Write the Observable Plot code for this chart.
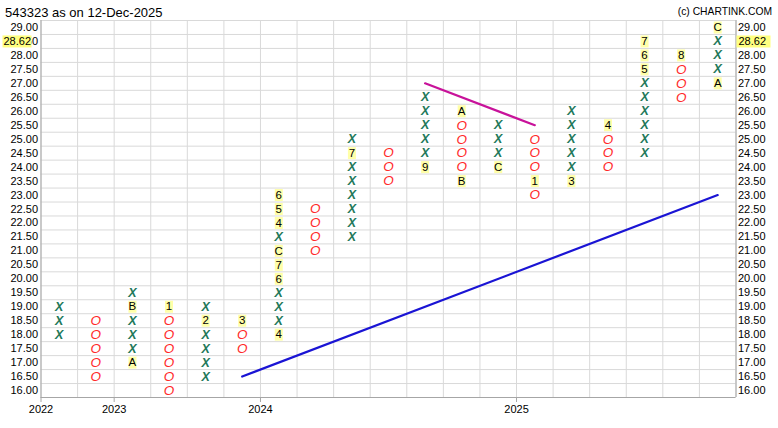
<!DOCTYPE html>
<html><head><meta charset="utf-8">
<script src="https://cdn.jsdelivr.net/npm/d3@7"></script>
<script src="https://cdn.jsdelivr.net/npm/@observablehq/plot@0.6"></script>
<style>
body{margin:0;background:#fff;overflow:hidden;}
#wrap{position:relative;width:778px;height:428px;font-family:"Liberation Sans",Arial,sans-serif;}
#wrap svg{position:absolute;left:0;top:0;}
#title{position:absolute;left:5px;top:5px;font-size:13px;line-height:16px;color:#000;z-index:2;}
#credit{position:absolute;right:6px;top:4px;font-size:10.3px;line-height:16px;color:#000;z-index:2;}
</style></head><body>
<div id="wrap"><div id="title">543323 as on 12-Dec-2025</div><div id="credit">(c) CHARTINK.COM</div></div>
<script>
// Point & figure columns
const colTypes = ["X","O","X","O","X","O","X","O","X","O","X","O","X","O","X","O","X","O","X"];
const colLows  = [18.0,16.5,17.0,16.0,16.5,17.5,18.0,21.0,21.5,23.5,24.0,23.5,24.0,23.0,23.5,24.0,24.5,26.5,27.0];
const colHighs = [19.0,18.5,19.5,19.0,19.0,18.5,23.0,22.5,25.0,24.5,26.5,26.0,25.5,25.0,26.0,25.5,28.5,28.0,29.0];
// Month markers (column, box price, label)
const monthCols   = [2,2,3,4,5,6,6,6,6,6,6,6,8,10,11,11,12,13,14,15,16,16,16,17,18,18];
const monthPrices = [17.0,19.0,19.0,18.5,18.5,18.0,20.0,20.5,21.0,22.0,22.5,23.0,24.5,24.0,26.0,23.5,24.0,23.5,23.5,25.5,27.5,28.0,28.5,28.0,27.0,29.0];
const monthLabels = ["A","B","1","2","3","4","6","7","C","4","5","6","7","9","A","B","C","1","3","4","5","6","7","8","A","C"];
// Trend lines
const resistCols = [10,13], resistPrices = [27.0,25.5];
const supportCols = [5,18], supportPrices = [16.5,23.0];
// Axis labels
const yearCols = [0,2,6,13];
const yearLabels = ["2022","2023","2024","2025"];
const boxSize = 0.5, priceMin = 16.0, priceMax = 29.0;
const lastPrice = 28.62;

const nCols = colTypes.length;
const months = monthLabels.map((t,i)=>({col:monthCols[i], price:monthPrices[i], label:t}));
const monthKey = new Set(months.map(m=>m.col+"|"+m.price.toFixed(2)));
const boxes = [];
colTypes.forEach((t,i)=>{
  for (let p = colLows[i]; p <= colHighs[i] + 1e-9; p += boxSize) {
    if (!monthKey.has(i+"|"+p.toFixed(2))) boxes.push({col:i, price:p, type:t});
  }
});
const priceTicks = d3.range(priceMin, priceMax + 1e-9, boxSize);
const hGrid = d3.range(priceMin - boxSize/2, priceMax + boxSize/2 + 1e-9, boxSize);
const vGrid = d3.range(0, nCols + 1);
const lastRow = Math.floor(lastPrice / boxSize) * boxSize;

const rectSymbol = (w,h) => ({draw(ctx){ ctx.rect(-w/2,-h/2,w,h); }});
const green = "#22785a", red = "#ff2a2a", gridC = "#d9d9d9", axisC = "#a6a6a6";

const chart = Plot.plot({
  width: 778, height: 428,
  marginTop: 20, marginBottom: 31, marginLeft: 40.5, marginRight: 42.5,
  x: {type: "linear", domain: [0, nCols]},
  y: {domain: [priceMin - boxSize/2, priceMax + boxSize/2]},
  style: {fontFamily: "Liberation Sans, Arial, sans-serif", fontSize: "11px", background: "#fff", overflow: "visible"},
  marks: [
    Plot.ruleY(hGrid, {stroke: gridC}),
    Plot.ruleX(vGrid, {stroke: gridC}),
    Plot.ruleX([0, nCols], {stroke: axisC}),
    Plot.ruleY([priceMin - boxSize/2], {stroke: axisC}),
    Plot.axisY({anchor: "left", ticks: priceTicks, tickFormat: d => d.toFixed(2), tickSize: 0, tickPadding: 3, label: null}),
    Plot.axisY({anchor: "right", ticks: priceTicks, tickFormat: d => d.toFixed(2), tickSize: 0, tickPadding: 2, label: null}),
    Plot.axisX({ticks: yearCols, tickFormat: d => yearLabels[yearCols.indexOf(d)], tickSize: 5, tickPadding: 3, stroke: axisC, label: null}),
    Plot.line(supportCols.map((c,i)=>({x:c+0.5, y:supportPrices[i]})), {x:"x", y:"y", stroke:"#1a14d4", strokeWidth:2.2}),
    Plot.line(resistCols.map((c,i)=>({x:c+0.5, y:resistPrices[i]})), {x:"x", y:"y", stroke:"#c8129a", strokeWidth:2.2}),
    Plot.text(boxes.filter(b=>b.type==="X"), {x: d=>d.col+0.5, y: "price", text: "type", fill: green, fontStyle: "italic", fontWeight: "bold", fontSize: 12.5}),
    Plot.text(boxes.filter(b=>b.type==="O"), {x: d=>d.col+0.5, y: "price", text: "type", fill: red, fontStyle: "italic", fontSize: 13.5}),
    Plot.dot(months, {x: d=>d.col+0.5, y: "price", symbol: rectSymbol(8,12), fill: "#ffffa8", stroke: "none"}),
    Plot.text(months, {x: d=>d.col+0.5, y: "price", text: "label", fill: "#000", fontSize: 11.5}),
    Plot.dot([lastPrice], {frameAnchor: "left", y: () => lastRow, dx: -24, symbol: rectSymbol(29,12), fill: "#ffff80", stroke: "none"}),
    Plot.text([lastPrice], {frameAnchor: "left", y: () => lastRow, dx: -37.5, text: d => d.toFixed(2), textAnchor: "start", fill: "#000"}),
    Plot.dot([lastPrice], {frameAnchor: "right", y: () => lastRow, dx: 17.5, symbol: rectSymbol(34,12), fill: "#ffff80", stroke: "none"}),
    Plot.text([lastPrice], {frameAnchor: "right", y: () => lastRow, dx: 2.5, text: d => d.toFixed(2), textAnchor: "start", fill: "#000"})
  ]
});
document.getElementById("wrap").prepend(chart);
</script>
</body></html>
